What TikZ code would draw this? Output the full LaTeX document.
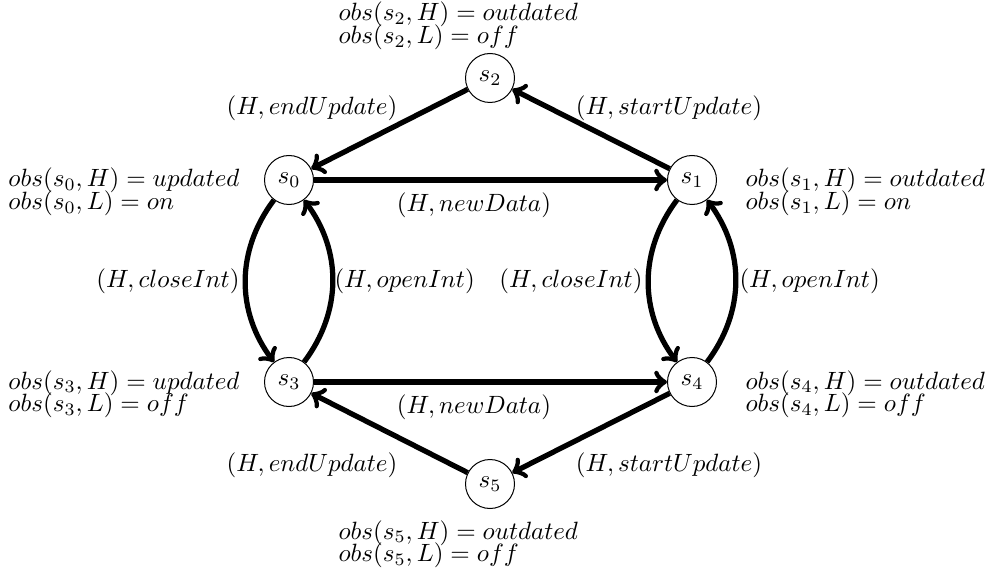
\documentclass[tikz,border=0pt]{standalone}
\usetikzlibrary{arrows}
\newcommand\obsfont{\fontsize{10}{9}\selectfont\setlength{\lineskiplimit}{-10pt}}
\begin{document}
\begin{tikzpicture}[x=0.4pt,y=-0.4pt,
  state/.style={circle,draw,line width=0.4pt,minimum size=19.6pt,inner sep=0pt},
  obs/.style={align=left,inner sep=0pt,font=\obsfont},
  lab/.style={inner sep=0pt},
  tr/.style={->,line width=2.1pt}]
\useasboundingbox (0,0) rectangle (985,572);
\node[state] (s0) at (289,180) {$s_0$};
\node[state] (s1) at (692,180) {$s_1$};
\node[state] (s2) at (490,78) {$s_2$};
\node[state] (s3) at (289,382) {$s_3$};
\node[state] (s4) at (692,382) {$s_4$};
\node[state] (s5) at (490,484) {$s_5$};
% observations
\node[obs,anchor=west] (o2) at (338,26) {$obs(s_2,H)=outdated$\\$obs(s_2,L)=off$};
\node[obs,anchor=west] (o0) at (8,192) {$obs(s_0,H)=updated$\\$obs(s_0,L)=on$};
\node[obs,anchor=west] (o1) at (745,192) {$obs(s_1,H)=outdated$\\$obs(s_1,L)=on$};
\node[obs,anchor=west] (o3) at (8,394) {$obs(s_3,H)=updated$\\$obs(s_3,L)=off$};
\node[obs,anchor=west] (o4) at (745,394) {$obs(s_4,H)=outdated$\\$obs(s_4,L)=off$};
\node[obs,anchor=west] (o5) at (338,544) {$obs(s_5,H)=outdated$\\$obs(s_5,L)=off$};
% transitions
\draw[tr] (s2) -- (s0);
\draw[tr] (s1) -- (s2);
\draw[tr] (s0) -- (s1);
\draw[tr] (s3) -- (s4);
\draw[tr] (s4) -- (s5);
\draw[tr] (s5) -- (s3);
\draw[tr] (s0) to[bend right=37] (s3);
\draw[tr] (s3) to[bend right=37] (s0);
\draw[tr] (s1) to[bend right=37] (s4);
\draw[tr] (s4) to[bend right=37] (s1);
% labels
\node[lab] (l1) at (312,108) {$(H,endUpdate)$};
\node[lab] (l2) at (669,108) {$(H,startUpdate)$};
\node[lab] (l3) at (474,205) {$(H,newData)$};
\node[lab] (l4) at (474,407) {$(H,newData)$};
\node[lab] (l5) at (312,465) {$(H,endUpdate)$};
\node[lab] (l6) at (669,465) {$(H,startUpdate)$};
\node[lab,anchor=east] (l7) at (240,281) {$(H,closeInt)$};
\node[lab,anchor=west] (l8) at (334,281) {$(H,openInt)$};
\node[lab,anchor=east] (l9) at (643,281) {$(H,closeInt)$};
\node[lab,anchor=west] (l10) at (739,281) {$(H,openInt)$};
\end{tikzpicture}
\end{document}
